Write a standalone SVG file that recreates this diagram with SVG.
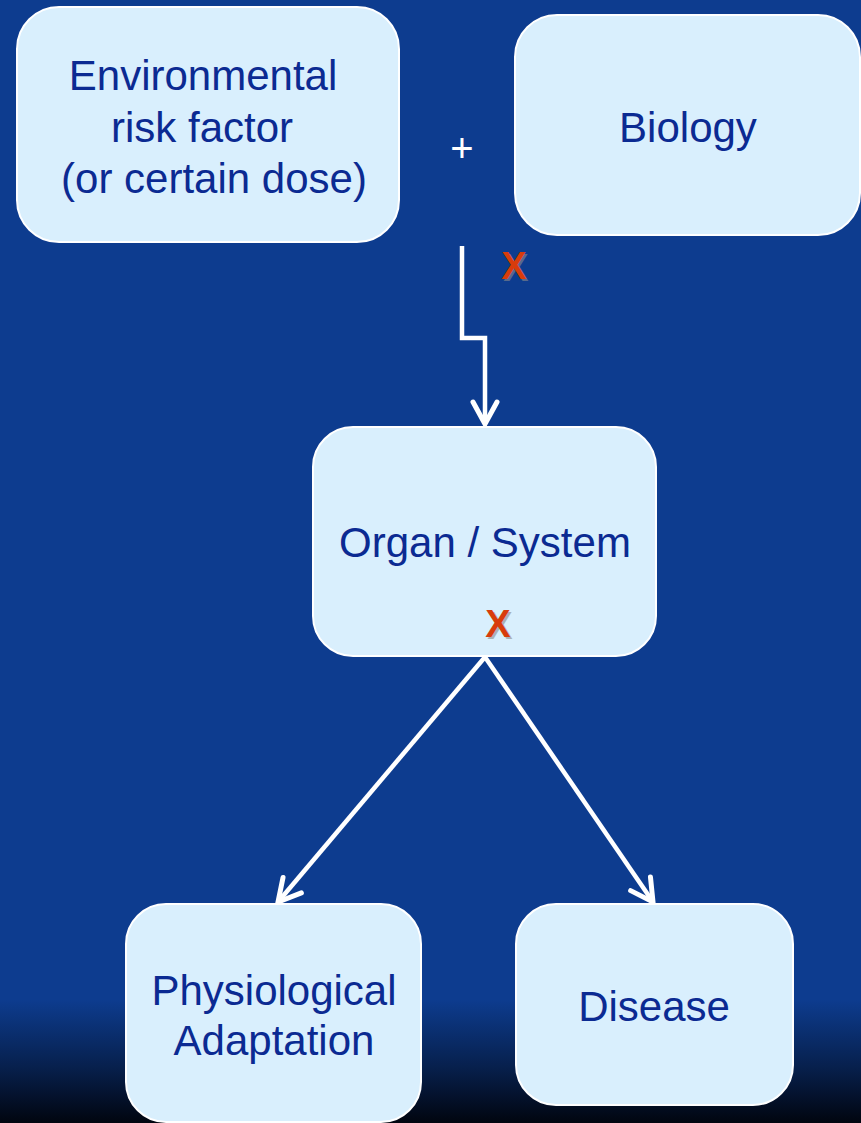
<svg xmlns="http://www.w3.org/2000/svg" width="861" height="1123" viewBox="0 0 861 1123">
  <defs>
    <linearGradient id="bg" x1="0" y1="0" x2="0" y2="1123" gradientUnits="userSpaceOnUse">
      <stop offset="0" stop-color="#0d3c8f"/>
      <stop offset="0.89" stop-color="#0d3c8f"/>
      <stop offset="0.95" stop-color="#07204d"/>
      <stop offset="1" stop-color="#01050f"/>
    </linearGradient>
    <marker id="head" markerUnits="userSpaceOnUse" viewBox="-26 -16 30 32" refX="0" refY="0" markerWidth="30" markerHeight="32" orient="auto">
      <path d="M-22,-12 L0,0 L-22,12" fill="none" stroke="#ffffff" stroke-width="5" stroke-linecap="round" stroke-linejoin="miter"/>
    </marker>
  </defs>
  <style>
    .box { fill: #d9effd; stroke: #ffffff; stroke-width: 2; }
    .lbl { font-family: "Liberation Sans", Arial, sans-serif; font-size: 42px; fill: #0b2a92; text-anchor: middle; }
    .wire { fill: none; stroke: #ffffff; stroke-width: 4.5; }
    .mark { font-family: "Liberation Sans", Arial, sans-serif; font-size: 38px; font-weight: bold; text-anchor: middle; }
    .mark-shadow { fill: #8a8a8a; opacity: 0.6; }
    .mark-face { fill: #d83c0c; }
    .plus { font-family: "Liberation Sans", Arial, sans-serif; font-size: 40px; fill: #ffffff; text-anchor: middle; }
  </style>

  <rect x="0" y="0" width="861" height="1123" fill="url(#bg)"/>

  <g id="connectors">
    <path class="wire" d="M462,246 L462,338 L485,338 L485,424" marker-end="url(#head)"/>
    <path class="wire" d="M485,657 L278,902" marker-end="url(#head)"/>
    <path class="wire" d="M485,657 L653,902" marker-end="url(#head)"/>
  </g>

  <g id="environmental">
    <rect class="box" x="17" y="7" width="382" height="235" rx="42"/>
    <text class="lbl" x="203" y="90">Environmental</text>
    <text class="lbl" x="202" y="142">risk factor</text>
    <text class="lbl" x="214" y="193">(or certain dose)</text>
  </g>

  <g id="plus">
    <text class="plus" x="462" y="162">+</text>
  </g>

  <g id="biology">
    <rect class="box" x="515" y="15" width="345" height="220" rx="42"/>
    <text class="lbl" x="688" y="142">Biology</text>
  </g>

  <g id="mark-link">
    <text class="mark mark-shadow" x="516" y="281">X</text>
    <text class="mark mark-face" x="514" y="279">X</text>
  </g>

  <g id="organ">
    <rect class="box" x="313" y="427" width="343" height="229" rx="40"/>
    <text class="lbl" x="485" y="557">Organ / System</text>
    <text class="mark mark-shadow" x="500" y="639">X</text>
    <text class="mark mark-face" x="498" y="637">X</text>
  </g>

  <g id="adaptation">
    <rect class="box" x="126" y="904" width="295" height="218" rx="40"/>
    <text class="lbl" x="274" y="1005">Physiological</text>
    <text class="lbl" x="274" y="1055">Adaptation</text>
  </g>

  <g id="disease">
    <rect class="box" x="516" y="904" width="277" height="201" rx="40"/>
    <text class="lbl" x="654" y="1021">Disease</text>
  </g>
</svg>
